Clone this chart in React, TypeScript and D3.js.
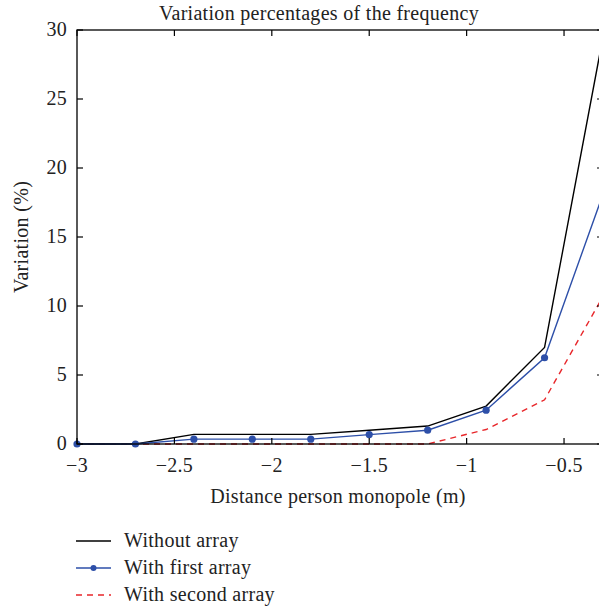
import React from "react";
import * as d3 from "d3";

const xValues = [-3, -2.7, -2.4, -2.1, -1.8, -1.5, -1.2, -0.9, -0.6, -0.3];
const withoutArray = [0, 0, 0.7, 0.7, 0.7, 1.0, 1.3, 2.75, 7.0, 29.5];
const withFirstArray = [0, 0, 0.35, 0.35, 0.35, 0.68, 1.0, 2.45, 6.25, 18.1];
const withSecondArray = [0, 0, 0, 0, 0, 0, 0, 1.05, 3.2, 10.7];
const xTicks = [-3, -2.5, -2, -1.5, -1, -0.5];
const yTicks = [0, 5, 10, 15, 20, 25, 30];
const legendLabels = ["Without array", "With first array", "With second array"];

const W = 599, H = 606;
const M = { left: 77, right: 603, top: 30, bottom: 444 };
const FONT = "'Liberation Serif', 'DejaVu Serif', serif";
const FS = 20;

function fmt(v: number) {
  const s = String(Math.abs(v));
  return v < 0 ? "\u2212" + s : s;
}

export default function App() {
  const x = d3.scaleLinear().domain([-3, -0.3]).range([M.left, M.right]);
  const y = d3.scaleLinear().domain([0, 30]).range([M.bottom, M.top]);
  const line = (vals: number[]) =>
    d3.line<number>().x((_, i) => x(xValues[i])).y((d) => y(d))(vals) || "";
  const black = "#000";
  const blue = "#2d4fa8";
  const red = "#e8262a";
  const tl = 6;
  return (
    <svg width={W} height={H} style={{ position: "absolute", left: 0, top: 0 }} fontFamily={FONT} letterSpacing={0.3}>
      <rect width={W} height={H} fill="#fff" />
      <text x={319} y={20} fontSize={FS} textAnchor="middle" fill="#222">
        Variation percentages of the frequency
      </text>
      <path d={line(withSecondArray)} fill="none" stroke={red} strokeWidth={1.4} strokeDasharray="6,5" />
      <path d={line(withoutArray)} fill="none" stroke={black} strokeWidth={1.4} />
      <path d={line(withFirstArray)} fill="none" stroke={blue} strokeWidth={1.4} />
      {withFirstArray.map((v, i) => (
        <circle key={i} cx={x(xValues[i])} cy={y(v)} r={3.6} fill={blue} />
      ))}
      <rect x={M.left} y={M.top} width={M.right - M.left} height={M.bottom - M.top} fill="none" stroke="#000" strokeWidth={1.3} />
      {xTicks.map((t) => (
        <g key={"x" + t}>
          <line x1={x(t)} x2={x(t)} y1={M.bottom} y2={M.bottom - tl} stroke="#000" strokeWidth={1.2} />
          <line x1={x(t)} x2={x(t)} y1={M.top} y2={M.top + tl} stroke="#000" strokeWidth={1.2} />
          <text x={x(t)} y={472} fontSize={FS} textAnchor="middle" fill="#222">{fmt(t)}</text>
        </g>
      ))}
      {yTicks.map((t) => (
        <g key={"y" + t}>
          <line x1={M.left} x2={M.left + tl} y1={y(t)} y2={y(t)} stroke="#000" strokeWidth={1.2} />
          <line x1={M.right} x2={M.right - tl} y1={y(t)} y2={y(t)} stroke="#000" strokeWidth={1.2} />
          <text x={67} y={y(t) + 6} fontSize={FS} textAnchor="end" fill="#222">{fmt(t)}</text>
        </g>
      ))}
      <text x={338} y={503} fontSize={FS} textAnchor="middle" fill="#222">
        Distance person monopole (m)
      </text>
      <text transform={`translate(28,237) rotate(-90)`} fontSize={FS} textAnchor="middle" fill="#222">
        Variation (%)
      </text>
      {legendLabels.map((lab, i) => {
        const ly = 541 + i * 27;
        const col = [black, blue, red][i];
        return (
          <g key={lab}>
            <line x1={76} x2={111} y1={ly} y2={ly} stroke={col} strokeWidth={1.4} strokeDasharray={i === 2 ? "6,5" : undefined} />
            {i === 1 && <circle cx={93.5} cy={ly} r={3} fill={blue} />}
            <text x={124} y={ly + 6} fontSize={FS} fill="#222">{lab}</text>
          </g>
        );
      })}
    </svg>
  );
}
